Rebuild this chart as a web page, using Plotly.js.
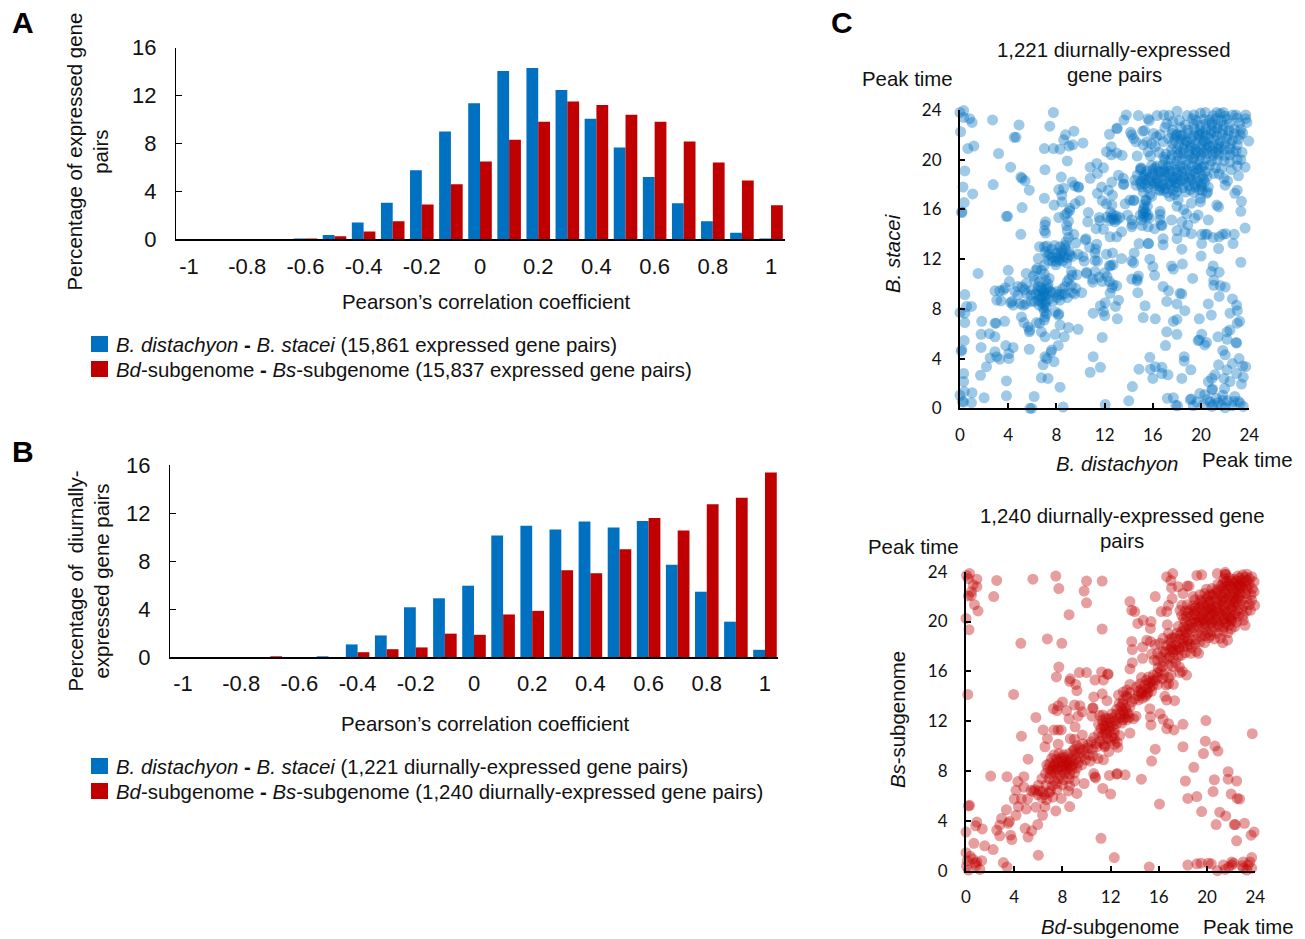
<!DOCTYPE html>
<html><head><meta charset="utf-8">
<script src="https://cdn.plot.ly/plotly-3.0.1.min.js"></script>
<style>html,body{margin:0;padding:0;background:#fff}</style></head>
<body><div id="chart" style="width:1305px;height:939px"></div>
<script>
const corrBins=[-1,-0.9,-0.8,-0.7,-0.6,-0.5,-0.4,-0.3,-0.2,-0.1,0,0.1,0.2,0.3,0.4,0.5,0.6,0.7,0.8,0.9,1];
const corrTicks=[-1,-0.8,-0.6,-0.4,-0.2,0,0.2,0.4,0.6,0.8,1];
const pctTicks=[0,4,8,12,16];
const hourTicks=[0,4,8,12,16,20,24];
const exprSpecies=[0,0,0,0,0.05,0.35,1.4,3.05,5.75,9,11.35,14.05,14.3,12.45,10.05,7.65,5.2,3,1.5,0.55,0.05];
const exprSubgenome=[0,0,0,0,0.03,0.25,0.65,1.5,2.9,4.6,6.5,8.3,9.8,11.5,11.2,10.4,9.8,8.15,6.4,4.9,2.85];
const diurnalSpecies=[0,0,0,0,0,0.03,1.05,1.8,4.15,4.9,5.95,10.15,10.95,10.65,11.3,10.8,11.35,7.7,5.45,2.95,0.6];
const diurnalSubgenome=[0,0,0,0.03,0,0,0.4,0.65,0.8,1.95,1.85,3.55,3.85,7.25,7,9,11.6,10.55,12.75,13.3,15.4];
const speciesPeaks=[
[0,23.8],[.3,23.95],[.8,23.3],[1,23],[.3,23.4],[.05,22.25],[2.7,23.2],[7.75,23.8],[4.9,22.8],[7.45,22.7],[4.5,21.8],[4.65,21.8],[9.45,22.3],[8.75,22],[8.6,21.6],[10.2,21.35],[9.35,21.2],[9.05,21.1],[7,20.9],[7.75,20.9],[8.3,20.85],[.65,20.9],[1.15,21.1],[3.2,20.5],[8.9,19.9],[4.2,19.4],[7.05,19.2],[.4,19.1],[5.05,18.6],[5.15,18.5],[5.4,18.3],[8.4,18.6],[9.3,18.2],[2.75,18],[.25,17.8],[1.05,17.25],[5.75,17.55],[8.2,17.6],[8.6,17.7],[9.8,17.8],[9.85,17.8],[9.5,17.9],[8.45,17.15],[7,16.9],[.35,16.55],[.15,15.8],[.15,15.75],[5.15,16.15],[7.8,16.35],[8.45,16.6],[9.95,16.7],[9.55,16.45],[9.1,16.1],[8.7,15.55],[8.9,15.7],[9.1,15.9],[3.85,15.45],[3.95,15.45],[8.2,15.35],
[10.8,19.4],[11.35,19.7],[11.9,19.35],[11.4,18.9],[10.8,18.5],[12.15,20.65],[12.55,21.05],[12.55,20.4],[13,20.55],[13.45,20.35],[12.4,22.05],[13,22.5],[13.05,22.55],[13.6,23.2],[13.8,23.6],[14.8,23.55],[14.15,22.2],[14.25,22],[15.15,22.3],[15.3,22.35],[14.6,21.45],[14.4,21.7],[15.5,21.45],[15.2,21.2],[15.6,20.65],[14.7,20.3],[15.6,23.3],[15.7,23.15],[16.35,23.55],[16.9,23.6],[17.35,23.55],[18,23.9],[17.15,22.9],[17,22.6],[16.05,22.1],[16.3,21.85],[16.6,22],[16.85,21.45],[15.9,21.3],[16.2,21.05],[16.5,20.6],[15.8,20.3],
[12.6,18.2],[13.15,18.75],[13.55,18.5],[13.6,18.05],[13.55,18],[11.75,17.8],[11.4,17.3],[12.3,17.55],[12.65,17.15],[11.8,16.7],[12.15,16.45],[12.6,16.35],[12.5,15.75],[12.7,15.55],[12.45,15.1],[12.85,15],[13.25,15.35],[11.55,15.35],[11.6,15.1],[10.65,15.75],[10.6,15],[11.3,14.45],[11.9,14.4],[12.45,13.8],[13,13.8],[13.4,14.2],[13.7,16.45],[14.1,16.75],[14.45,16.75],[14.4,16.7],[13.9,15.55],[14.25,15.15],[14.25,14.6],[14.3,14.8],[14.95,15.55],[15.2,15.65],[15.5,15.4],[15.05,15.15],[15.25,16.1],[15.4,16.75],[15.55,16.25],[15.7,15.3],[15.6,14.6],[15.1,14.7],[16.15,14.45],[16.6,15.85],[16.6,15.6],[16.6,15.15],[16.7,14.75],[16.75,14.7],[15.3,16.4],[15.2,15.9],[12.2,15.4],[13.05,15.2],[12.55,15.3],[12.95,15.5],[12.75,15.2],[15.4,15.8],[15.6,15.55],[15.25,15.4],[15.45,16.7],
[17.4,17.05],[17.8,17.2],[18.1,16.75],[18,16.25],[18.55,16],[19.2,16.5],[19.95,16.9],[20.45,17.3],[19.95,16.6],[21.3,16.35],[21.45,16.2],[23.35,16.65],[23.3,15.85],[22.8,17.3],[23,17.55],[22,17.95],[17.55,15.15],[18.4,15],[18.8,15.65],[19.75,15.55],[19.45,15.3],[20.6,15.15],[18,14.3],[18.65,14.2],[18,13.65],[16.85,13.65],[16.85,13.15],[18.9,14.75],[19.2,14.05],[20.05,14],[20.35,14],[20.5,14],[21,13.75],[21.8,14],[22.05,14.05],[22.75,14],[23.65,14.5],[21.5,13.8],[21.45,12.85],[22.65,13.25],[20.05,13.25],[18.4,12.8],[20,12.25],[23.3,11.75],[14.85,13.25],[15.6,13.25],[15.65,13.25],
[12.15,12.4],[12.65,12.5],[13.4,12.05],[14.45,12.5],[14.25,11.85],[14.4,11.7],[12.7,11.55],[12.4,11.45],[12.5,11.5],[15.75,12],[16,11.4],[16.15,10.7],[17.55,11.45],[17.7,11.2],[18.45,11.6],[21,11.45],[20.85,11],[21.5,10.95],[19.3,10.45],[21.05,10.3],[21.05,9.9],[22,9.75],[21.6,9.85],[16.85,9.8],[17.3,9.45],[18.25,9.25],[18.4,9.2],[21.5,9],[22.6,8.8],[22.95,8.3],[20.6,8.4],[17.15,8.6],[18,8.4],[18.65,7.85],[20.85,7.5],[22.4,7.65],[23,7.85],[15.35,8.25],[15.2,7.3],[16.2,7.2],[17.7,7],[18,7.15],[19.85,7.2],[23.2,7],[23,6.85],[22.4,6.3],[22.15,6.15],[17.15,6.15],[18,5.95],[20.05,5.95],[21.4,5.75],[19.75,5.45],[19.85,5.5],[20.45,5.3],[20.3,5.1],[22.15,5.55],[22.9,5.3],[22.95,5.25],[17.05,5.05],[21.8,4.65],[22,4.3],[15.75,4.1],[18.6,4.15],[18.6,3.8],[23.15,4],[22.6,3.6],[21.45,3.5],[22.15,3.1],[23.45,3.4],[23.7,3.35],[22.95,2.8],[23.5,2.5],[23.35,1.95],[22.4,2.15],[21.9,2.4],[21.15,2.7],[20.6,2.15],[20.9,2.4],[14.85,3.15],[15.8,3.15],[16.2,3.35],[16.75,3.3],[16,2.4],[16.75,2.8],[17.25,2.7],[18.4,2.4],[19.15,3.1],[14.3,1.75],
[14,.6],[12.05,.3],[17.2,.8],[17.7,.85],[17.9,.25],[18.05,.2],[19.2,.75],[19.1,.7],[19.65,.5],[19.9,1.2],[20.3,1.1],[20.9,1.5],[20.95,1.55],[20.75,.5],[20.9,.15],[21.25,.8],[21.8,1.05],[21.95,1.6],[21.8,.65],[22,.05],[21.4,.45],[22.7,.55],[22.8,.95],[23.1,.55],[23.5,.15],[22.55,.2],[19.35,.2],[20.2,.3],[20.5,.7],[21,.3],[21.7,.25],[23.25,.4],[22.2,.6],
[0,1.05],[.2,.55],[.3,.5],[1,1.25],[.95,.45],[.35,1.35],[2,.85],[3.85,1],[6.15,.95],[5.8,0],[5.95,0],[8.55,.1],[8.3,1.7],[3.85,2.2],[1.7,2.65],[.3,2.8],[.3,2.15],[6.75,2.45],[7.3,2.4],[2.2,3.35],[2.5,4.05],[2.9,4.55],[3.05,4.15],[3.3,3.95],[4.05,4],[4.05,4.4],[4.4,4.9],[3.8,5.05],[1.75,4.9],[.15,4.7],[.35,5.45],[1.75,5.95],[2.45,6],[2.9,5.75],[.4,6.9],[.4,7.65],[0,7.7],[.55,8.2],[.95,8.2],[.4,9.15],[1.8,7],[2.9,6.85],[3,6.85],[3.7,7],[1.5,10.85],[4,11.1],[4.1,10.2],[5.05,14],[5.75,4.75],[7.05,4.15],[7.6,4.7],[8.15,5.05],[7.8,3.75],[6.9,3.5],[7.2,4],[7.55,4.5],[11.05,4.15],[10.8,2.9],[11.65,3.3],[11.8,5.7],[13.05,7.2],[12,7.45],[11.9,7.8],[11.05,7.65],[11.65,8.25],[12.05,8.5],[12.9,8.2],[13.15,8.7],[14.75,9.3],[12.45,9.25],[9.8,6.35],[9,6.5],[8.65,5.75],[7.9,5.95],[8.3,6.7],[.1,4.6],
[2.9,9.45],[3.3,9.45],[3.75,9.7],[3.6,9.5],[3.05,8.7],[3.4,8.65],[4.3,8.6],[4.4,8.3],[4.8,9.8],[4.8,9.1],[5.25,8.3],[5.45,8.4],[5.5,9.25],[5.5,10.05],[5.5,10.85],[5.1,7.35],[5.3,6.9],[5.65,6.55],[5.75,6.15],[5.8,6.3],[6.35,6.9],[6.6,6.85],[6.75,6.15],[7.05,5.75],[7.05,7.35],[7.15,7.6],[7,7.1],[7.9,7.75],[8.15,7.5],[8.2,7.6],[4.2,8.5],[5,8.4],[5.9,9.1],[5.35,9.55],[4.55,9.4],[5.15,9.75],[5.9,8.6],[6.1,10.65],[5.95,9.5],[8.05,8.9],[8.45,9.15],[8.9,8.9],[9.6,9.65],[9.25,9.85],
[6.2,10.3],[6.6,10.2],[6.5,9.8],[6.8,9.5],[7.1,10.3],[7.3,10],[7.4,10.45],[6.3,9.2],[6.6,9.05],[6.9,9],[7.2,9.2],[7.5,9.4],[6.5,8.7],[6.8,8.5],[7.1,8.6],[7.4,8.8],[6.2,8.6],[6.9,8.1],[7.15,8.15],[7,7.8],[7.7,9.3],[8,9.4],[8.2,9.15],[8.5,9.6],[8.7,9.8],[8.9,10.2],[8.7,9.2],[9.3,9.3],[9.5,9.2],[10.1,9.3],[9.05,10.4],[9.3,10.7],[9.7,10.75],[9.25,11],[8.3,8.7],[7.7,8.6],[7.3,9.7],[7.05,9.05],[6.7,8.9],[6.95,9.35],[6.75,9.7],[7.15,9.6],[6.45,9.5],[7,8.35],[6.55,8.3],
[7,13],[7.1,12.6],[7.3,12.3],[7.35,11.9],[7,11.5],[6.75,11.1],[7,10.8],[6.3,11.1],[6.4,11.25],[6.5,12.05],[6.6,13],[7.2,13.05],[7.6,12.8],[7.85,13.1],[8,12.5],[8.3,12.3],[8.5,12.7],[8.7,13.1],[8.8,13.4],[9,13.75],[8.9,14.3],[8.85,14.7],[9,15.05],[9.45,14],[8,11.8],[8.5,11.85],[8.9,12.1],[9.3,12.2],[9.8,12.4],[10.2,12.2],[7.7,11.85],[7.95,11.55],[8.2,11.95],[8.6,12.2],[8.3,13],[9.6,13.3],[10.45,13.65],[10.4,13.55],[11.2,12.5],[11.25,12.8],[11.2,11.9],[11.4,11.85],[10.75,12.95],[11.35,13.2],[7.05,14.75],[7.1,15],[7,14.3],[7.1,14.1],[10.3,11.85],[10.5,10.85],[10.5,10.95],[11,10.4],[11.2,11],[11.55,10.55],[11.8,10.2],[11,10.15],[12,10.9],[12.2,10.6],[12.4,10.2],[12.7,9.95],[12.6,9.7],[13,9.85],[14.25,10.4],[14.7,10.4],[14.8,10.65],[14.7,10.25],[9.05,12.6],[8.75,12.9],[7.45,12.4],[7.65,12.15],[8.4,12.5],[8.85,11.7],[8.1,12.15],[9.1,12.35],
[15.2,17.4],[15.75,17.2],[15.9,17.05],[16.6,17.5],[17.2,17.35],[18,17.45],[18.7,17.4],[19.4,17.35],[20.1,17.5],[20.55,17.4],[14.6,17.95],[15.1,17.8],[15.6,17.75],[16.1,17.9],[16.6,17.85],[17.05,17.7],[17.5,17.95],[17.95,17.8],[18.5,17.75],[19,17.9],[19.5,17.8],[20,17.85],[20.6,17.8],[14.5,18.35],[15,18.25],[15.45,18.4],[15.95,18.3],[16.4,18.2],[16.9,18.35],[17.4,18.25],[17.85,18.15],[18.3,18.3],[18.75,18.2],[19.25,18.35],[19.75,18.25],[20.3,18.2],[14.7,18.75],[15.25,18.7],[15.7,18.6],[16.2,18.75],[16.7,18.65],[17.15,18.7],[17.65,18.6],[18.1,18.75],[18.6,18.65],[19.1,18.75],[19.6,18.6],[20.1,18.7],[20.5,18.65],[14.95,19.2],[15.5,19.1],[16,19.2],[16.45,19.05],[16.95,19.15],[17.45,19.1],[17.9,19.2],[18.4,19.05],[18.85,19.15],[19.35,19.1],[19.85,19.2],[20.35,19.05],[15,19.35],[15.05,19.3],[15.9,19.55],[16.35,19.5],[16.85,19.6],[17.3,19.5],[17.8,19.6],[18.25,19.5],[18.75,19.55],[19.25,19.5],[19.7,19.6],[20.2,19.5],[20.7,19.55],[21.2,19.35],[16.5,17.6],[17.7,18.4],[19,18.5],[18,19],[16.2,18.1],[15.2,18.5],[17,19],
[15,18.05],[15.35,18.05],[15.85,18.05],[16.35,18.45],[16.85,18],[17.25,18.05],[18.1,18.05],[18.55,18.45],[19.45,18.05],[20.05,18],[15.45,18.85],[16,18.85],[16.6,19],[17.35,18.85],[17.95,18.5],[19.5,18.9],[20.2,18.45],[16.2,19.35],[17.1,19.4],[18.55,19.3],[19.65,19.3],[20.05,19.4],[16.9,17.55],[17.65,17.55],[19.1,17.6],[19.85,17.6],
[17,20],[17.5,20.05],[18,19.9],[18.45,20.05],[18.9,19.95],[19.4,20.05],[19.9,19.95],[20.4,20.05],[20.85,19.9],[21.35,20],[21.9,19.9],[22.4,19.8],[23,19.5],[23.65,19.4],[22.5,19.2],[21.7,19.3],[21.9,18.5],[22.2,18.3],[21.05,18.9],[21.5,18.85],[23.1,18.7],[17.1,20.45],[17.6,20.4],[18.1,20.35],[18.55,20.5],[19.05,20.35],[19.55,20.45],[20,20.35],[20.5,20.5],[21,20.35],[21.45,20.45],[21.95,20.35],[22.4,20.4],[23,20],[23.3,20],[17.55,20.85],[18,20.8],[18.5,20.9],[19,20.75],[19.5,20.85],[19.95,20.8],[20.45,20.9],[20.9,20.75],[21.4,20.85],[21.9,20.8],[22.4,20.9],[22.9,20.7],[17.65,21.3],[18.15,21.2],[18.6,21.3],[19.1,21.15],[19.55,21.25],[20.05,21.2],[20.5,21.3],[21,21.15],[21.45,21.25],[21.95,21.2],[22.45,21.3],[23,21.2],[17.8,21.6],[18.3,21.65],[18.75,21.55],[19.2,21.7],[19.7,21.6],[20.2,21.55],[20.65,21.7],[21.1,21.6],[21.6,21.55],[22.1,21.7],[22.6,21.55],[23.1,21.65],[23.95,21.5],[18,22.05],[18.45,22],[18.95,22.1],[19.4,21.95],[19.85,22.05],[20.35,22],[20.8,22.1],[21.3,21.95],[21.75,22.05],[22.25,22],[22.75,22.1],[23.25,22],[23.45,22.15],[18.9,22.4],[19.45,22.5],[19.9,22.35],[20.4,22.45],[20.85,22.35],[21.35,22.5],[21.8,22.4],[22.3,22.35],[22.75,22.5],[23.3,22.45],[17.6,22.1],[17.65,22.4],[18.3,22.6],[18.7,22.8],[19.4,22.85],[19.95,22.75],[20.4,22.9],[20.9,22.8],[21.4,22.85],[21.85,22.75],[22.35,22.9],[23.2,22.95],[23.8,23],[23.7,23.3],[19.3,23.3],[19.6,23.15],[20.2,23.25],[20.7,23.2],[21.2,23.3],[21.7,23.15],[22.15,23.25],[23,23.35],[22.9,23.6],[23.7,23.6],[18.85,23.55],[19.4,23.6],[19.95,23.75],[20.35,23.8],[21,23.55],[21.3,23.8],[21.6,23.7],[21.85,23.8],[22,23.5],[22.6,23.6],[17.65,23.1],[18.2,23.15],[17.9,21.9],[18.3,21.95],[19.2,20.95],[20.3,21.45],[20.7,21.05],[19.8,21.95],[21.1,22.25],[20.1,22.15],[21.6,21],[22.7,20.6],[21.2,20.6],[20.2,20.6],[19.3,20.15],[19.7,20.65],[18.8,21.45],[18.3,20.6],[20.9,23],[23.4,20.6],[17.3,21.7],[16.9,20.2]
];
const subgenomePeaks=[
[.05,23.7],[.2,23.45],[.3,23.85],[.9,23.4],[.6,22.95],[.9,22.8],[.45,22.4],[.2,22.05],[.45,22.1],[.7,21.35],[1,20.85],[0,20.25],[.25,19.35],[2.55,23.3],[2.3,22],[5.55,23.4],[7.45,23.65],[7.7,22.65],[10,23.25],[9.8,22.45],[10,21.5],[11.3,23.25],[8.55,20.55],[11.3,19.4],[6.75,18.6],[7.95,18.25],[4.55,18.25],[7.7,16.35],[7.5,15.55],[.15,14.15],[3.95,14.15],[13.6,21.6],[13.75,20.9],[14,20.8],[14.25,19.85],[14.7,20.1],[15.35,20],[15.3,19.45],[13.75,18.4],[13.8,17.75],[14.65,17.95],[15,18.5],[15.3,18.4],[14.65,17.05],[13.8,16.7],[13.6,16.2],[15.7,22],[16.2,20.8],[16.65,20.8],[16.8,21.3],[17.1,21.85],[16.65,23.6],[17.15,23.85],[17,23.3],[17.05,22.7],[17.6,22.8],[18.35,22.85],[18.5,22.85],[18,22.25],[18.85,22],[20.85,23.85],[21.5,23.8],[21.55,23.75],[16.7,19.75],[16.35,18.65],[16.8,19.05],[19.15,23.7],[19.55,23.75],
[9.4,15.9],[10,15.9],[10.7,15.3],[11.25,15.95],[11.4,15.3],[11.8,15.8],[11.75,15.75],[8.65,15.4],[8.6,15.2],[9.1,14.95],[9.2,14.45],[10.6,13.95],[11.3,14.2],[8,13.55],[7.65,13.25],[7.25,13],[7.55,12.85],[8.35,12.85],[9,13.3],[9.45,13.25],[9.65,12.75],[9.3,12.4],[10.5,13.05],[10.55,13.05],[10.45,12.4],[11.7,13.65],[8.55,12.2],[5.8,12.3],[9.05,11.55],[7.3,11.3],[7.65,11.3],[7.9,11.3],[6.4,11.3],[6.75,10.6],[4.6,10.8],[6.55,9.95],[7.65,10.15],[8.65,10.6],[9,10.55],[9.65,10.9],[5.15,8.95],
[15.25,13],[15.35,11.7],[15.3,12.35],[16.1,12.6],[16.35,12.15],[16.8,11.8],[16.65,11.4],[17.25,11.3],[18,11.75],[19.9,12.05],[19.85,10.4],[20.65,10],[20.9,9.6],[23.75,11],[18,9.95],[19.7,9.4],[15.7,9.75],[15.4,8.8],[18.9,8.3],[21.75,7.95],[21.75,7.35],[22.45,7.2],[20.6,7.3],[18.2,7.2],[20.5,6.35],[22,6.15],[22.5,5.8],[22.7,5.75],[19.15,5.95],[18.4,5.8],[16.05,5.35],[19.55,4.75],[21.05,4.7],[21.55,4.4],[20.75,3.7],[22.25,3.7],[22.35,3.7],[23.1,3.8],[22.45,2.4],[23.9,3.1],[23.65,2.85],[14.55,7.35],[13.2,7.7],[12.5,7.75],[12.55,7.8],[11.9,7.65],[10.6,7.8],[10.75,7.45],[10.7,7.55],[9.8,7],[11.35,6.6],[12,6.15],[11.2,2.6],[12.3,1.05],[6,1.25],[15.2,.3],[13.6,11.05],[11.85,9.55],[10.95,9],[11.4,8.9],[8.6,5.15],[7.45,4.8],[16.5,14],[16.65,13.7],[17.3,13.65],[17.2,14.95],[16.8,15],[16.6,14.9],
[0,3.1],[.9,3.9],[1.35,3.35],[.3,5.25],[.2,5.2],[.65,2.2],[1.55,2],[2.25,1.7],[0,1.45],[.35,1.15],[.55,.95],[1.3,.8],[.75,.6],[.85,.4],[.2,.05],[1.15,.1],[3.1,.65],[3.4,.3],[2.55,3.25],[2.8,3.65],[2.95,4.2],[3.5,3.8],[3.6,3.95],[2.8,2.8],[3.7,2.85],[3.8,2.5],[2.05,7.6],[3.4,7.55],[4.9,3.4],[5.15,2.7],[5.45,3.2],[5.95,3.7],[6.35,4.45],[6.55,5.15],[3.35,4.9],[4.15,4.45],[4.35,5.15],[5,4.95],[5.8,5.1],[4,5.75],[4.6,5.75],[5.1,5.75],[4.15,6.45],[4.3,7.15],[4.8,7.55],[4.8,6.7],[5.6,6.35],[6,6.85],[6.3,7.4],[.8,3.6],[.1,.8],[.05,.35],[.9,.7],
[18.4,.45],[19.15,.55],[19.5,.6],[20.1,.6],[20.35,.55],[20.85,0],[21.35,.45],[21.5,.1],[22.05,.7],[22.2,.6],[22.05,.45],[23,.7],[23,.2],[23.3,.05],[23.7,1.05],[23.55,.7],[23.4,.45],[23.7,.2],[22.9,.4],[21.8,.3],
[5.7,6.5],[6.1,6.4],[6.5,6.1],[6.9,6.25],[6.3,5.85],[6.7,5.7],[7.2,5.9],[7.55,6.5],[7.15,6.8],[7,6.4],[6.65,6.9],[7.9,5.8],[8,6.9],[8.5,6.4],[8.6,6.8],[9.2,6.2],[6.35,6.35],[5.4,6.45],[7.5,7],[5.95,6.1],
[6.9,7.4],[7.3,7.25],[7.7,7.4],[8.1,7.3],[8.55,7.4],[9,7.2],[6.6,7.8],[7,7.75],[7.4,7.85],[7.8,7.7],[8.2,7.8],[8.6,7.75],[9,7.85],[6.8,8.2],[7.2,8.15],[7.6,8.25],[8,8.1],[8.4,8.2],[8.8,8.15],[9.2,8.25],[6.95,8.6],[7.35,8.55],[7.7,8.65],[8.1,8.5],[8.5,8.6],[8.9,8.55],[9.3,8.65],[9.6,8.5],[7.1,9],[7.5,8.95],[7.9,9.05],[8.3,8.9],[8.7,9],[9.1,8.95],[9.5,9.05],[9.9,8.9],[10.3,8.8],[7.3,9.3],[7.7,9.4],[8.1,9.3],[8.55,9.4],[9,9.3],[9.4,9.45],[9.8,9.35],[10.2,9.3],[10.55,9.2],[9,9.75],[9.4,9.8],[9.75,9.7],[10.1,9.85],[10.5,9.75],[10.85,9.95],[9.7,10.2],[10.1,10.1],[10.4,10.35],[10.8,10.2],[11.1,10.4],[11.4,10.2],[11.75,10.6],[12,10.4],[12.3,10.6],[12.55,10.3],[12.1,10.75],[12.35,10.15],[12.75,10.85],[11.5,9.95],[12.6,9.9],[7.05,8.05],[7.5,8.1],[7.95,8.35],[8.35,8.45],[8.75,8.4],[7.55,8.75],[7.95,8.8],[8.35,8.7],[8.75,8.85],[8.15,9.1],[6.7,8.5],[7.25,8.4],[8.25,8.1],[8.9,9.65],[9.2,10.05],[10.6,10.7],[11.45,11.05],[11.55,10.05],
[11,11],[11.3,10.85],[11.65,11],[11.95,11.2],[12.3,11.05],[11.2,11.4],[11.55,11.35],[11.85,11.5],[12.15,11.6],[11,11.75],[11.35,11.7],[11.7,11.85],[12,11.9],[11.3,12.1],[11.6,12.25],[11.85,12.2],[12.15,12.25],[12.4,12.05],[12.7,12.25],[13,12.1],[13.2,12.3],[13.55,12.3],[13.9,12.2],[14.1,12.4],[13.35,12.1],[12.1,12.6],[12.45,12.55],[12.8,12.6],[13.1,12.55],[13.45,12.6],[12.5,12.95],[12.85,13.15],[13,13.4],[13.25,13.05],[12.7,13.4],[13.05,13.7],[13.4,13.9],[13.75,13.55],[12.65,14.1],[13.05,14.35],[13.3,14.05],[13.6,14.3],[14,13.8],[14.3,14.05],[14.55,14.2],[14.9,14],[15.1,14.3],[14.65,13.85],[13.35,14.5],[13.6,14.95],[14.15,14.75],[14.5,14.55],[14.85,14.9],[15.25,14.7],[15.5,14.85],[14.45,15],[14.95,15.3],[15.3,15.15],[15.7,15.25],[15.9,14.95],[15.15,15.55],[15.55,15.7],[15.9,15.5],[14.55,15.5],[16.4,15.75],[15.95,16.3],[16.3,16.4],[16.8,15.5],[17,15.7],[14.3,13.7],[14.6,14.35],[15,14.15],[14.3,14.4],[15,14.6],[15.4,14.4],[15.15,15],[15.5,15.3],[15.9,15.9],[16.3,15.4],[16.15,16],[13.3,12.8],[13.6,13.15],[13,12.85],[11.5,11.65],[12.3,11.35],[12.5,11.8],[12.9,11.85],[11.1,12.45],[11.35,12.5],
[15.4,17.4],[15.6,16.9],[15.9,17.45],[15.9,16.85],[16.2,17.15],[16.55,17.55],[16.9,17.75],[16.4,16.8],[16.8,16.5],[17.15,16.4],[17.4,16.7],[17.6,17.2],[17.2,17.05],[17.7,16.35],[17.95,16],[18.3,15.7],[17.75,15.9],[16.9,17.2],[17.4,17.75],[17.05,17.95],[15.7,18.15],[16.1,18.25],[16.6,18.05],[17,18.3],[17.45,18.1],[17.9,18.25],[18.35,18],[18.7,17.9],[18.2,17.5],[18.65,17.45],[19.1,17.6],[19.3,17.45],[17.9,17.3],[16.9,18.55],[17.3,18.7],[17.75,18.6],[18.2,18.75],[18.6,18.6],[19.05,18.55],[19.4,18.35],[19.8,18.3],[20.15,18.7],[20.6,18.6],[21.1,18.65],[21.3,18.3],[21.7,18.5],[17.5,19.05],[17.9,19.2],[18.3,19.1],[18.7,19.2],[19.15,19.05],[19.55,19.15],[20,19.1],[20.4,19.2],[20.85,19.05],[21.3,19.2],[21.7,19.1],[22,19.4],[17.6,19.6],[18.05,19.55],[18.45,19.65],[18.9,19.5],[19.3,19.6],[19.75,19.55],[20.15,19.65],[20.55,19.55],[21,19.6],[21.4,19.55],[21.85,19.7],[22.3,19.6],[18.2,20],[18.6,20.05],[19.05,19.95],[19.5,20.05],[19.9,19.95],[20.35,20.05],[20.75,19.95],[21.2,20.05],[21.6,19.95],[22.05,20.05],[22.45,19.95],[23,20.1],[23.15,19.7],[17.9,20.5],[18.3,20.4],[18.75,20.5],[19.2,20.4],[19.6,20.5],[20.05,20.4],[20.45,20.5],[20.9,20.4],[21.3,20.5],[21.75,20.4],[22.2,20.5],[22.6,20.4],[23,20.5],[17.75,20.9],[18.2,20.85],[18.6,20.95],[19.05,20.85],[19.5,20.9],[19.9,20.85],[20.35,20.95],[20.75,20.85],[21.2,20.9],[21.6,20.85],[22.05,20.95],[22.5,20.85],[22.9,20.95],[23.3,20.85],[23.6,20.9],[17.9,21.3],[18.35,21.35],[18.8,21.25],[19.25,21.35],[19.65,21.3],[20.1,21.35],[20.5,21.25],[20.95,21.35],[21.35,21.3],[21.8,21.35],[22.2,21.25],[22.65,21.35],[23.05,21.3],[23.5,21.35],[23.95,21.3],[19,21.75],[19.45,21.7],[19.9,21.8],[20.3,21.7],[20.75,21.8],[21.15,21.7],[21.6,21.8],[22,21.7],[22.45,21.8],[22.85,21.7],[23.3,21.8],[23.7,21.7],[19.4,22.15],[19.8,22.25],[20.25,22.15],[20.65,22.25],[21.1,22.15],[21.5,22.25],[21.95,22.15],[22.35,22.25],[22.8,22.15],[23.2,22.25],[23.65,22.15],[23.9,22.4],[19.95,22.6],[20.4,22.65],[20.8,22.55],[21.25,22.65],[21.65,22.6],[22.1,22.65],[22.5,22.55],[22.95,22.65],[23.35,22.6],[23.75,22.65],[20.9,23],[21.35,23.1],[21.8,23],[22.2,23.1],[22.65,23],[23.05,23.1],[23.5,23],[23.9,23.2],[21.4,23.45],[21.85,23.5],[22.25,23.4],[22.7,23.5],[23.15,23.55],[23.5,23.45],[22.95,23.75],[22.55,23.65],[21.5,23.95],[23.3,23.8],[23.7,23.6],[20.5,22.1],[21.9,20.3],[19.7,20.2],[18.5,19.4],[17.1,18.7],[20.6,20.7],[22.2,21.5],[21.3,21.6],[20.05,21.05],[22.7,22.9],
[18.75,19.85],[19.3,19.9],[19.8,19.8],[20.35,19.85],[20.95,19.8],[21.5,19.85],[18.05,20.2],[18.95,20.2],[19.45,20.3],[20.2,20.25],[20.7,20.2],[21.45,20.25],[22,20.2],[18.45,20.75],[18.95,20.65],[19.75,20.7],[20.25,20.65],[21.05,20.65],[21.55,20.7],[22.35,20.65],[19,21.1],[19.4,21.1],[20.3,21.1],[20.8,21.1],[21.45,21.05],[22,21.1],[22.4,21.55],[19.6,21.55],[20.15,21.55],[20.85,21.55],[21.35,21.9],[21.8,21.95],[22.2,21.95],[22.6,22],[20.05,22],[20.85,22.4],[21.45,22.4],[22.25,22.4],[22.7,22.35],[21.2,22.9],[21.6,22.85],[22,22.85],[22.45,22.8],[22.85,22.85],[23.25,22.85],[21.6,23.25],[22,23.25],[22.45,23.25],[22.85,23.3],[23.3,23.3],[17.2,17.55],[17.7,17.75],[18.05,18],[18.55,18.2],[19,18.2],[18.05,18.55],[18.4,18.45],[19.5,18.8],[19.85,18.85],[20.3,18.9],[17.65,17.95],[17.75,18.9],[18.15,19.35],[17.15,17.8],[16.35,17.6],[16.7,17.05]
];
const W=1305,H=939;
const fx=p=>p/W, fy=p=>1-p/H;
const BLUE='#0070c0',RED='#c00000',SANS='"Liberation Sans",Arial,sans-serif';
const bar=(name,y,color,xa,ya)=>({type:'bar',name,x:corrBins,y,xaxis:xa,yaxis:ya,marker:{color,line:{width:0}},showlegend:false,hoverinfo:'x+y'});
const dots=(name,pts,color,xa,ya)=>({type:'scatter',mode:'markers',name,x:pts.map(p=>p[0]),y:pts.map(p=>p[1]),xaxis:xa,yaxis:ya,cliponaxis:false,showlegend:false,marker:{size:11,color,opacity:0.38,line:{width:0}}});
const traces=[
 bar('B. distachyon - B. stacei',exprSpecies,BLUE,'x','y'),
 bar('Bd-subgenome - Bs-subgenome',exprSubgenome,RED,'x','y'),
 bar('B. distachyon - B. stacei',diurnalSpecies,BLUE,'x2','y2'),
 bar('Bd-subgenome - Bs-subgenome',diurnalSubgenome,RED,'x2','y2'),
 dots('B. distachyon vs B. stacei',speciesPeaks,BLUE,'x3','y3'),
 dots('Bd-subgenome vs Bs-subgenome',subgenomePeaks,RED,'x4','y4')
];
const barX=(l,r,anchor,range)=>({domain:[fx(l),fx(r)],anchor,range,tickvals:corrTicks,ticktext:corrTicks.map(String),showgrid:false,zeroline:false,showline:true,linecolor:'#000',linewidth:1.6,ticks:'',ticklabelstandoff:6,tickfont:{family:SANS,size:22,color:'#111'}});
const barY=(t,b,anchor)=>({domain:[fy(b),fy(t)],anchor,range:[0,16],tickvals:pctTicks,showgrid:false,zeroline:false,showline:true,linecolor:'#000',linewidth:1.4,ticks:'inside',ticklen:6,tickwidth:1.4,tickcolor:'#000',ticklabelstandoff:14,tickfont:{family:SANS,size:22,color:'#111'}});
const hourX=(l,r,anchor)=>({domain:[fx(l),fx(r)],anchor,range:[0,24],tickvals:hourTicks,showgrid:false,zeroline:false,showline:true,linecolor:'#000',linewidth:2,ticks:'inside',ticklen:5,tickwidth:1.5,tickcolor:'#000',ticklabelstandoff:10,tickfont:{family:'Lato,sans-serif',size:17,color:'#111'}});
const hourY=(t,b,anchor)=>({domain:[fy(b),fy(t)],anchor,range:[0,24],tickvals:hourTicks,showgrid:false,zeroline:false,showline:true,linecolor:'#000',linewidth:2,ticks:'inside',ticklen:5,tickwidth:1.5,tickcolor:'#000',ticklabelstandoff:13,tickfont:{family:'Lato,sans-serif',size:17,color:'#111'}});
const note=(text,x,y,o={})=>Object.assign({text,x:fx(x),y:fy(y),xref:'paper',yref:'paper',showarrow:false,xanchor:'center',yanchor:'middle',align:'center',font:{family:SANS,size:20.4,color:'#111'}},o);
const left={xanchor:'left',align:'left'};
const swatch=(x0,y0,x1,y1,c)=>({type:'rect',xref:'paper',yref:'paper',x0:fx(x0),x1:fx(x1),y0:fy(y1),y1:fy(y0),fillcolor:c,line:{width:0}});
const panel=()=>({family:SANS,size:30,color:'#000'});
const layout={width:W,height:H,autosize:false,margin:{l:0,r:0,t:0,b:0},paper_bgcolor:'#fff',plot_bgcolor:'rgba(0,0,0,0)',barmode:'group',bargap:0.19,bargroupgap:0,
 xaxis:barX(176,785,'y',[-1.0447,1.048]),yaxis:barY(47.5,239.3,'x'),
 xaxis2:barX(170,778,'y2',[-1.0447,1.0447]),yaxis2:barY(465.3,657,'x2'),
 xaxis3:hourX(960,1249.3,'y3'),yaxis3:hourY(110,408.3,'x3'),
 xaxis4:hourX(966,1255.3,'y4'),yaxis4:hourY(571.7,870.7,'x4'),
 shapes:[swatch(91,336,108,352,BLUE),swatch(91,361,108,377,RED),swatch(91,758,108,774,BLUE),swatch(91,783,108,799,RED)],
 annotations:[
  note('<b>A</b>',23.5,22,{font:panel()}),note('<b>B</b>',22.5,451,{font:panel()}),note('<b>C</b>',842,23,{font:panel()}),
  note('Percentage of expressed gene<br>pairs',88.5,152,{textangle:-90}),
  note('Percentage of  diurnally-<br>expressed gene pairs',88.5,581,{textangle:-90}),
  note('Pearson’s correlation coefficient',486,302),note('Pearson’s correlation coefficient',485,724),
  note('<i>B. distachyon</i> <b>-</b> <i>B. stacei</i> (15,861 expressed gene pairs)',114,345,left),
  note('<i>Bd</i>-subgenome <b>-</b> <i>Bs</i>-subgenome (15,837 expressed gene pairs)',114,369.5,left),
  note('<i>B. distachyon</i> <b>-</b> <i>B. stacei</i> (1,221 diurnally-expressed gene pairs)',114,767,left),
  note('<i>Bd</i>-subgenome <b>-</b> <i>Bs</i>-subgenome (1,240 diurnally-expressed gene pairs)',114,792,left),
  note('1,221 diurnally-expressed',1114,50),note('gene pairs',1114,75),note('Peak time',907,79),
  note('<i>B. stacei</i>',893,254,{textangle:-90}),note('<i>B. distachyon</i>',1117,464),note('Peak time',1247,460),
  note('1,240 diurnally-expressed gene',1122,516),note('pairs',1122,541),note('Peak time',913,547),
  note('<i>Bs</i>-subgenome',898,720,{textangle:-90}),note('<i>Bd</i>-subgenome',1110,927),note('Peak time',1248,927)
 ]};
Plotly.newPlot('chart',traces,layout,{displayModeBar:false,responsive:false});
</script></body></html>
